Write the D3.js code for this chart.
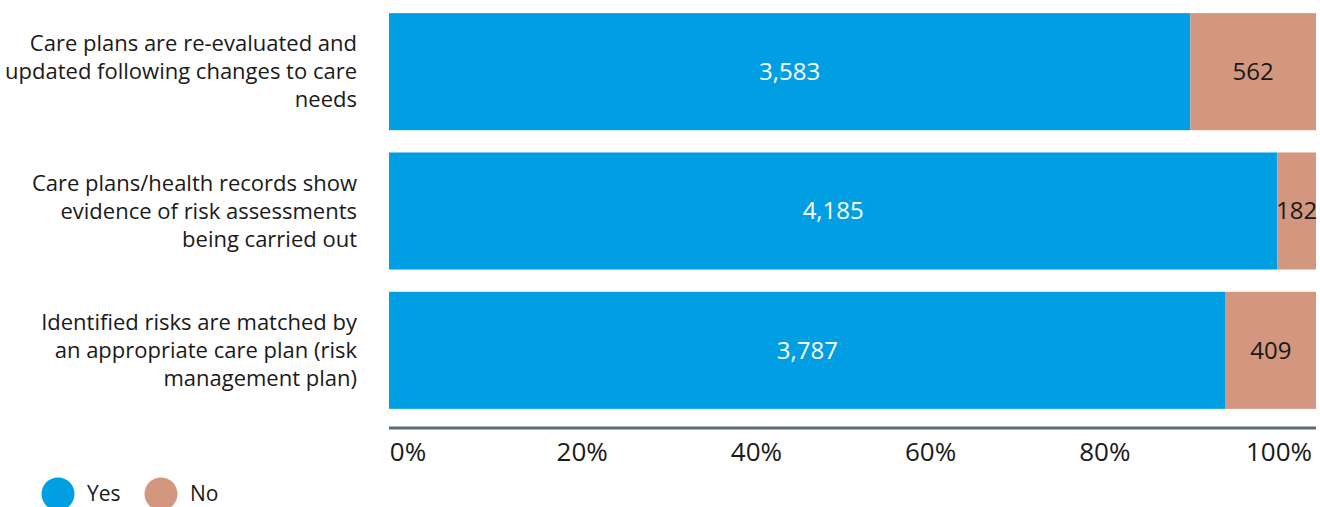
<!DOCTYPE html>
<html>
<head>
<meta charset="utf-8">
<script src="https://cdn.jsdelivr.net/npm/d3@7"></script>
<style>
  html, body { margin: 0; padding: 0; background: #fff; }
  svg { display: block; font-family: "Open Sans", "Noto Sans", sans-serif; }
</style>
</head>
<body>
<svg id="chart" width="1320" height="507"></svg>
<script>
// Care-plan audit results: counts of Yes / No per statement, shown as 100% stacked bars
const categories = [
  "Care plans are re-evaluated and\nupdated following changes to care\nneeds",
  "Care plans/health records show\nevidence of risk assessments\nbeing carried out",
  "Identified risks are matched by\nan appropriate care plan (risk\nmanagement plan)"
];
const yesValues = [3583, 4185, 3787];
const noValues = [562, 182, 409];
const seriesNames = ["Yes", "No"];
const seriesColors = ["#009fe3", "#d3967f"];
const tickValues = [0, 0.2, 0.4, 0.6, 0.8, 1];
const tickLabels = ["0%", "20%", "40%", "60%", "80%", "100%"];

const svg = d3.select("#chart");

const x = d3.scaleLinear().domain([0, 1]).range([389, 1316]);
const y = d3.scaleBand().domain(categories).range([2, 420]).paddingInner(0.16).paddingOuter(0.08);

const rows = categories.map((c, i) => ({
  category: c,
  Yes: yesValues[i],
  No: noValues[i]
}));

const stack = d3.stack()
  .keys(seriesNames)
  .offset(d3.stackOffsetExpand);
const layers = stack(rows);

const color = d3.scaleOrdinal().domain(seriesNames).range(seriesColors);

// bars
const layerG = svg.append("g").selectAll("g")
  .data(layers).join("g")
  .attr("fill", d => color(d.key));

layerG.selectAll("rect")
  .data(d => d.map(s => ({ key: d.key, s })))
  .join("rect")
  .attr("x", d => x(d.s[0]))
  .attr("width", d => x(d.s[1]) - x(d.s[0]))
  .attr("y", d => y(d.s.data.category))
  .attr("height", y.bandwidth());

// value labels inside segments
layerG.selectAll("text")
  .data(d => d.map(s => ({ key: d.key, s })))
  .join("text")
  .attr("x", d => (x(d.s[0]) + x(d.s[1])) / 2)
  .attr("y", d => y(d.s.data.category) + y.bandwidth() / 2)
  .attr("dy", "0.35em")
  .attr("text-anchor", "middle")
  .attr("font-size", 24)
  .attr("fill", d => d.key === "Yes" ? "#ffffff" : "#1a1a1a")
  .text(d => d3.format(",")(d.s.data[d.key]));

// category labels, right-aligned, one tspan per line
const catG = svg.append("g");
const lineH = 28;
categories.forEach(c => {
  const lines = c.split("\n");
  const t = catG.append("text")
    .attr("text-anchor", "end")
    .attr("font-size", 22)
    .attr("fill", "#1a1a1a");
  const cy = y(c) + y.bandwidth() / 2;
  const startY = cy - (lines.length - 1) * lineH / 2;
  lines.forEach((ln, i) => {
    t.append("tspan")
      .attr("x", 357)
      .attr("y", startY + i * lineH)
      .attr("dy", "0.35em")
      .text(ln);
  });
});

// axis baseline
const axisY = 428;
svg.append("line")
  .attr("x1", x(0)).attr("x2", x(1))
  .attr("y1", axisY).attr("y2", axisY)
  .attr("stroke", "#5f6b78")
  .attr("stroke-width", 3);

// tick labels spread evenly across the axis width
const labelPos = d3.scalePoint().domain(tickValues).range([x(0) + 19, x(1) - 37]);
svg.append("g").selectAll("text")
  .data(tickValues)
  .join("text")
  .attr("x", d => labelPos(d))
  .attr("y", 461)
  .attr("text-anchor", "middle")
  .attr("font-size", 26)
  .attr("fill", "#1a1a1a")
  .text((d, i) => tickLabels[i]);

// legend
const legend = svg.append("g");
const legendX = d3.scalePoint().domain(seriesNames).range([58, 161]);
seriesNames.forEach(k => {
  legend.append("circle")
    .attr("cx", legendX(k)).attr("cy", 494)
    .attr("r", 16.5)
    .attr("fill", color(k));
  legend.append("text")
    .attr("x", legendX(k) + 29).attr("y", 501)
    .attr("font-size", 21)
    .attr("fill", "#1a1a1a")
    .text(k);
});
</script>
</body>
</html>
